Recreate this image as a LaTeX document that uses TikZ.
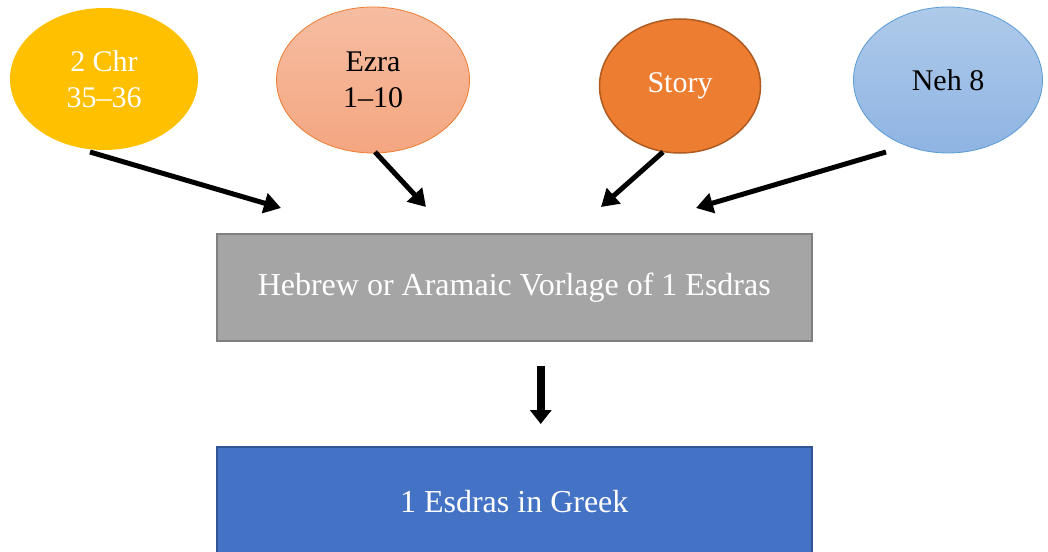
\documentclass[tikz,border=0pt]{standalone}
\usepackage{fontspec}
\setmainfont{Liberation Serif}
\usetikzlibrary{shapes.geometric,arrows.meta}
\definecolor{chrgold}{HTML}{FFC000}
\definecolor{ezratop}{HTML}{F6BDA2}
\definecolor{ezrabot}{HTML}{F4A680}
\definecolor{ezraline}{HTML}{ED7D31}
\definecolor{storyfill}{HTML}{ED7D31}
\definecolor{storyline}{HTML}{AE5A21}
\definecolor{nehtop}{HTML}{AECAE9}
\definecolor{nehbot}{HTML}{8FB4E3}
\definecolor{nehline}{HTML}{5B9BD5}
\definecolor{grayfill}{HTML}{A5A5A5}
\definecolor{grayline}{HTML}{7F7F7F}
\definecolor{bluefill}{HTML}{4472C4}
\definecolor{blueline}{HTML}{2F5597}
\tikzset{
  src/.style={ellipse, inner sep=0pt, font=\fontsize{30}{36}\selectfont, align=center},
  stage/.style={rectangle, minimum width=595pt, minimum height=107pt, inner sep=0pt,
    line width=1.5pt, text=white, font=\fontsize{32}{36}\selectfont},
  feed/.style={line width=5pt, -{Triangle[length=17pt,width=20pt]}},
  flow/.style={line width=7.5pt, -{Triangle[length=14pt,width=21pt]}}
}
\begin{document}
\begin{tikzpicture}[x=1pt,y=-1pt]
\useasboundingbox (0,0) rectangle (1048,551);
\begin{scope}
\clip (0,0) rectangle (1048,551);
% source ellipses
\node[src, fill=chrgold, text=white, minimum width=188pt, minimum height=142pt] (chr) at (104,79) {2 Chr\\35--36};
\node[src, draw=ezraline, line width=0.8pt, top color=ezratop, bottom color=ezrabot,
  minimum width=193pt, minimum height=146pt] (ezra) at (373,80) {Ezra\\1--10};
\node[src, draw=storyline, line width=1.5pt, fill=storyfill, text=white,
  minimum width=161pt, minimum height=134pt] (story) at (680,86) {Story};
\node[src, draw=nehline, line width=0.8pt, top color=nehtop, bottom color=nehbot,
  minimum width=189pt, minimum height=146pt] (neh) at (948,80) {Neh 8};
% stages (the lower box runs past the bottom edge)
\node[stage, draw=grayline, fill=grayfill, anchor=north west] (vorlage) at (216,233) {Hebrew or Aramaic Vorlage of 1 Esdras};
\node[stage, draw=blueline, fill=bluefill, anchor=north west, minimum height=130pt] (greek) at (216,446) {\raisebox{20pt}{1 Esdras in Greek}};
% arrow ends
\coordinate (c1s) at (90,152);   \coordinate (c1e) at (281,208);
\coordinate (c2s) at (375,152);  \coordinate (c2e) at (426,207);
\coordinate (c3s) at (663,152);  \coordinate (c3e) at (601,207);
\coordinate (c4s) at (886,152);  \coordinate (c4e) at (696,208);
\draw[feed] (c1s) -- (c1e);
\draw[feed] (c2s) -- (c2e);
\draw[feed] (c3s) -- (c3e);
\draw[feed] (c4s) -- (c4e);
\draw[flow] ([xshift=26.5pt,yshift=-24pt]vorlage.south) -- ([xshift=26.5pt,yshift=22pt]greek.north);
\end{scope}
\end{tikzpicture}
\end{document}
